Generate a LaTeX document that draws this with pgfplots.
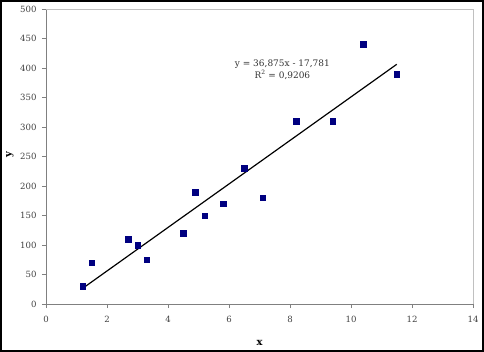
\documentclass[border=0pt]{standalone}
\usepackage{pgfplots}
\pgfplotsset{compat=1.18}
\usepackage{fontspec}
\setmainfont{DejaVu Serif}
\definecolor{navy}{RGB}{0,0,128}
\definecolor{axgray}{RGB}{128,128,128}
\definecolor{boxgray}{RGB}{192,192,192}
\begin{document}
\begin{tikzpicture}[x=1bp,y=1bp]
\begin{axis}[
  at={(0,0)}, anchor=origin,
  scale only axis,
  width=427bp, height=295bp,
  xmin=0, xmax=14, ymin=0, ymax=500,
  xtick={0,2,...,14}, ytick={0,50,...,500},
  axis lines*=left,
  axis line style={axgray, -},
  tick style={axgray, line width=0.6pt},
  tick align=outside,
  major tick length=4bp,
  tick label style={font=\fontsize{8.6}{10}\selectfont, text=black!75},
  xticklabel style={yshift=-5bp},
  yticklabel style={xshift=-2bp},
  /pgf/number format/assume math mode=true,
  clip=false,
]
\addplot[only marks, mark=square*, mark size=2.8bp, mark options={navy, fill=navy}] coordinates {
  (1.2,30) (1.5,70) (2.7,110) (3.0,100) (3.3,75) (4.5,120) (4.9,190) (5.2,150)
  (5.8,170) (6.5,230) (7.1,180) (8.2,310) (9.4,310) (10.4,440) (11.5,390)
};
\addplot[black, line width=1.2pt] coordinates {(1.2,26.47) (11.5,406.28)};
\node[font=\fontsize{9}{11}\selectfont, text=black!80, align=center] at (axis cs:7.75,397)
  {y = 36,875x - 17,781\\[1pt] R\textsuperscript{2} = 0,9206};
\draw[boxgray, line width=0.8pt] (rel axis cs:0,1) -- (rel axis cs:1,1) -- (rel axis cs:1,0);
\node[font=\bfseries\fontsize{10}{12}\selectfont] at (213.5bp,-39bp) {x};
\node[font=\bfseries\fontsize{10}{12}\selectfont, rotate=90] at (-36bp,149bp) {y};
\end{axis}
\draw[black, line width=2bp] (-45bp,-47bp) rectangle (437bp,303bp);
\end{tikzpicture}
\end{document}
